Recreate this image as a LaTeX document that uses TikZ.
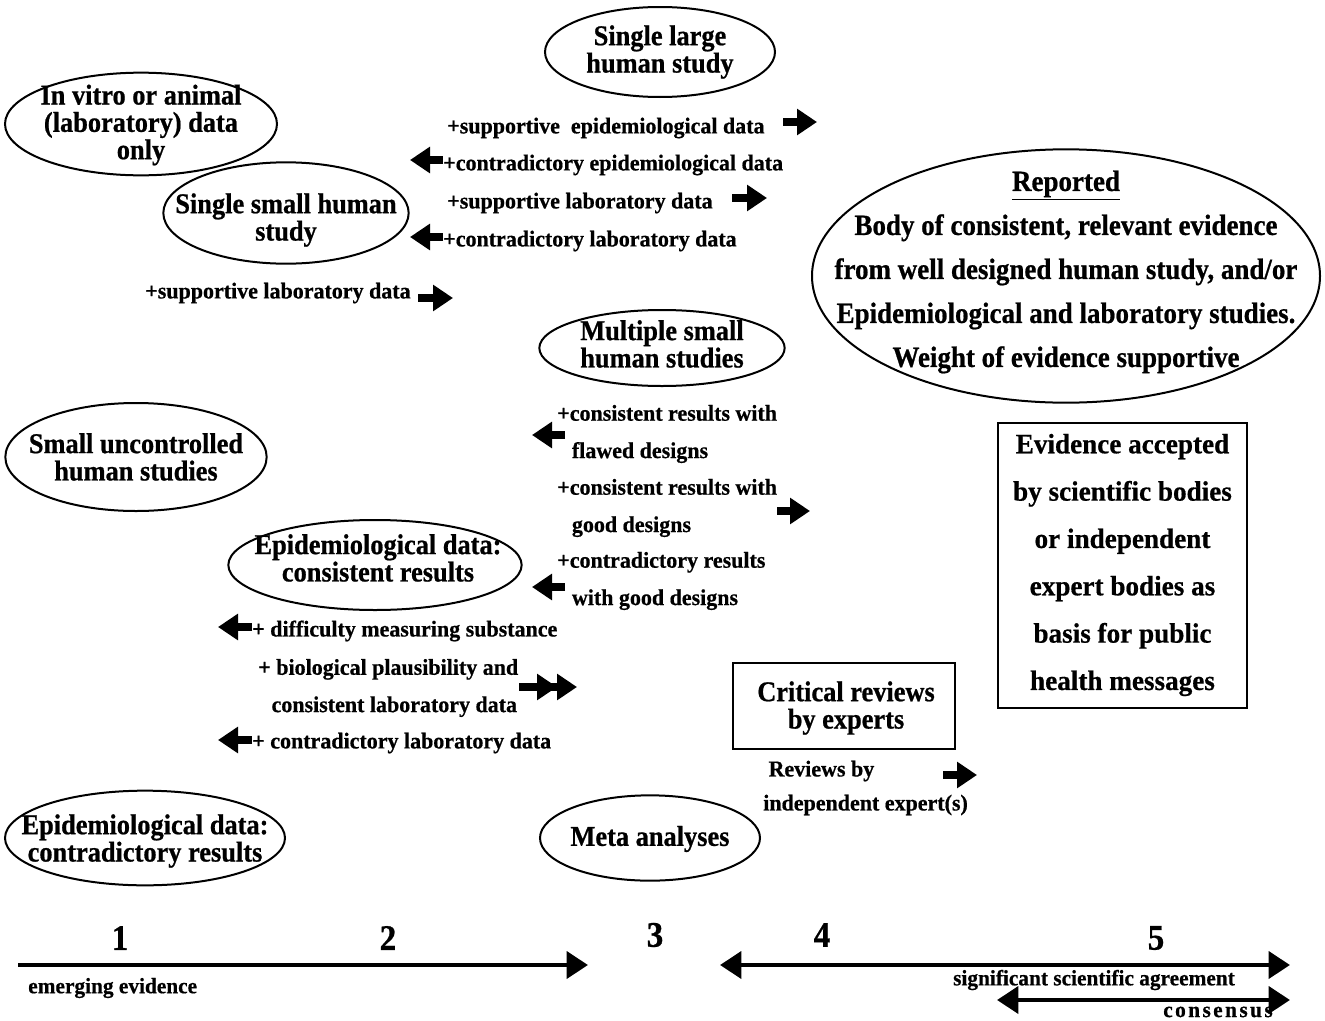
\documentclass[tikz,border=0pt]{standalone}
\usepackage{fontspec}
\setmainfont{Liberation Serif}
\newfontfamily\fT[FakeStretch=0.92,FakeBold=0.7]{Liberation Serif}
\newfontfamily\fS[FakeStretch=0.97,FakeBold=0.6]{Liberation Serif}
\usetikzlibrary{shapes.geometric,arrows.meta}
\tikzset{
  oval/.style={ellipse, draw, line width=1.5pt, inner sep=0pt},
  box/.style={rectangle, draw, line width=1.5pt, inner sep=0pt},
  ttl/.style={align=center, inner sep=0pt, font=\fT\bfseries\fontsize{21.5}{20.5}\selectfont},
  big/.style={align=center, inner sep=0pt, font=\fT\bfseries\fontsize{22}{33}\selectfont},
  evd/.style={align=center, inner sep=0pt, font=\fS\bfseries\fontsize{21}{35.5}\selectfont},
  lbl/.style={anchor=west, align=left, inner sep=0pt, font=\fS\bfseries\fontsize{17}{28}\selectfont},
  axl/.style={inner sep=0pt, font=\fS\bfseries\fontsize{16.5}{20}\selectfont},
  num/.style={inner sep=0pt, font=\fT\bfseries\fontsize{27}{27}\selectfont},
  barrow/.style={line width=5.5pt, -{Triangle[length=15pt,width=19pt]}},
  dbarrow/.style={line width=5.5pt, -{Triangle[length=15pt,width=19pt] Triangle[length=15pt,width=19pt]}},
  axis/.style={line width=3.5pt, -{Triangle[length=16pt,width=20pt]}},
  axis2/.style={line width=3.5pt, {Triangle[length=16pt,width=20pt]}-{Triangle[length=16pt,width=20pt]}},
}
\begin{document}
\begin{tikzpicture}[x=0.75pt,y=-0.75pt]
\useasboundingbox (0,0) rectangle (1325,1021);

% ellipses
\node[oval, minimum width=172.5pt, minimum height=67.5pt] (sl) at (660,52) {};
\node[ttl] (slT) at (660,52) {Single large\\human study};

\node[oval, minimum width=204pt, minimum height=77pt] (iv) at (141,124) {};
\node[ttl] (ivT) at (141,125) {In vitro or animal\\(laboratory) data\\only};

\node[oval, minimum width=184pt, minimum height=76pt] (ss) at (286,213) {};
\node[ttl] (ssT) at (286,220) {Single small human\\study};

\node[oval, minimum width=381pt, minimum height=190pt] (rep) at (1066,276) {};
\node[big] (repT) at (1066,272) {\underline{Reported}\\Body of consistent, relevant evidence\\from well designed human study, and/or\\Epidemiological and laboratory studies.\\Weight of evidence supportive};

\node[oval, minimum width=184pt, minimum height=57pt] (ms) at (662,348) {};
\node[ttl] (msT) at (662,344) {Multiple small\\human studies};

\node[oval, minimum width=196pt, minimum height=81pt] (su) at (136,457) {};
\node[ttl] (suT) at (136,457) {Small uncontrolled\\human studies};

\node[oval, minimum width=220pt, minimum height=67.5pt] (ec) at (375,565) {};
\node[ttl] (ecT) at (378,558) {Epidemiological data:\\consistent results};

\node[oval, minimum width=210pt, minimum height=71pt] (ed) at (145,838) {};
\node[ttl] (edT) at (145,841) {Epidemiological data:\\contradictory results};

\node[oval, minimum width=165pt, minimum height=64pt] (ma) at (650,838) {};
\node[ttl] (maT) at (650,839) {Meta analyses};

% boxes
\node[box, minimum width=166.5pt, minimum height=64.5pt] (cr) at (844,706) {};
\node[ttl] (crT) at (846,708) {Critical reviews\\by experts};

\node[box, minimum width=187pt, minimum height=214pt] (ev) at (1122.5,565.5) {};
\node[evd] (evT) at (1122.5,565) {Evidence accepted\\by scientific bodies\\or independent\\expert bodies as\\basis for public\\health messages};

% labels
\node[lbl] (t1) at (447,128) {+supportive\ \ epidemiological data};
\node[lbl] (t2) at (443,165) {+contradictory epidemiological data};
\node[lbl] (t3) at (447,203) {+supportive laboratory data};
\node[lbl] (t4) at (443,241) {+contradictory laboratory data};
\node[lbl] (t5) at (145,293) {+supportive laboratory data};
\node[lbl] (t6) at (557,434) {+consistent results with\\\hspace*{11pt}flawed designs};
\node[lbl] (t7) at (557,508) {+consistent results with\\\hspace*{11pt}good designs};
\node[lbl] (t8) at (557,581) {+contradictory results\\\hspace*{11pt}with good designs};
\node[lbl] (t9) at (252,631) {+ difficulty measuring substance};
\node[lbl] (t10) at (258,688) {+ biological plausibility and\\\hspace*{10pt}consistent laboratory data};
\node[lbl] (t11) at (252,743) {+ contradictory laboratory data};
\node[lbl, font=\fS\bfseries\fontsize{17}{25.5}\selectfont] (t12) at (763,788) {\hspace*{4pt}Reviews by\\independent expert(s)};

% block arrows
\coordinate (a1s) at (783,122); \coordinate (a1e) at (817,122);
\coordinate (a2s) at (443,160); \coordinate (a2e) at (410,160);
\coordinate (a3s) at (732,198); \coordinate (a3e) at (767,198);
\coordinate (a4s) at (443,237); \coordinate (a4e) at (410,237);
\coordinate (a5s) at (418,298); \coordinate (a5e) at (453,298);
\coordinate (a6s) at (565,435); \coordinate (a6e) at (532,435);
\coordinate (a7s) at (777,511); \coordinate (a7e) at (810,511);
\coordinate (a8s) at (565,587); \coordinate (a8e) at (532,587);
\coordinate (a9s) at (252,627); \coordinate (a9e) at (218,627);
\coordinate (a10s) at (519,687); \coordinate (a10e) at (577,687);
\coordinate (a11s) at (252,740); \coordinate (a11e) at (218,740);
\coordinate (a12s) at (943,775); \coordinate (a12e) at (977,775);
\foreach \i in {1,...,9,11,12} {\draw[barrow] (a\i s) -- (a\i e);}
\draw[dbarrow] (a10s) -- (a10e);

% scale
\node[num] (n1) at (120,938) {1};
\node[num] (n2) at (388,938) {2};
\node[num] (n3) at (655,935) {3};
\node[num] (n4) at (822,935) {4};
\node[num] (n5) at (1156,938) {5};
\coordinate (x1s) at (18,965); \coordinate (x1e) at (588,965);
\coordinate (x2s) at (720,965); \coordinate (x2e) at (1290,965);
\coordinate (x3s) at (997,1000); \coordinate (x3e) at (1290,1000);
\draw[axis] (x1s) -- (x1e);
\draw[axis2] (x2s) -- (x2e);
\draw[axis2] (x3s) -- (x3e);
\node[axl, anchor=west] (l1) at (28,988) {emerging evidence};
\node[axl] (l2) at (1094,980) {significant\ scientific\ agreement};
\node[axl] (l3) at (1218,1012) {\addfontfeature{LetterSpace=11}consensus};
\end{tikzpicture}
\end{document}
